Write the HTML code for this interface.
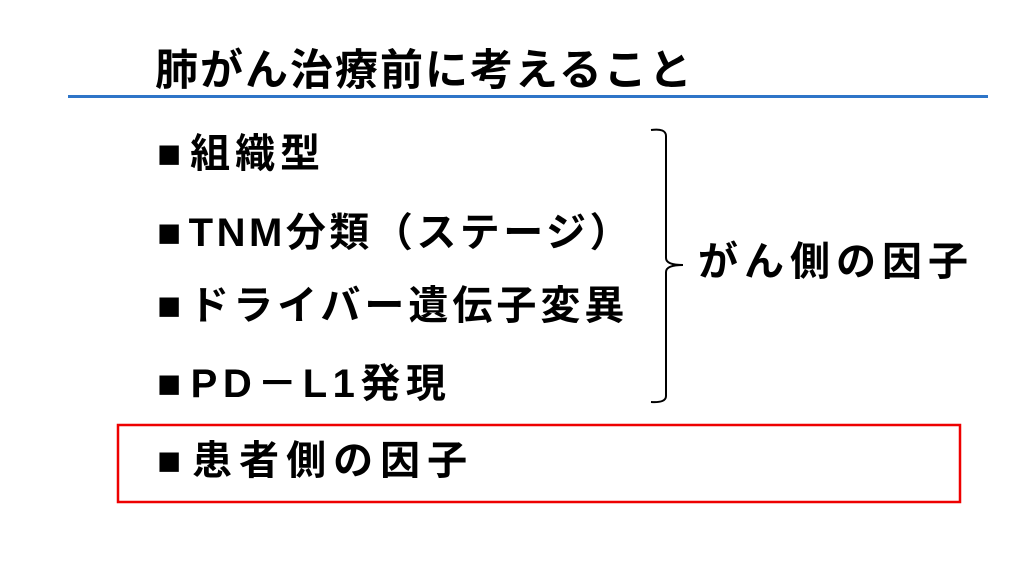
<!DOCTYPE html>
<html><head><meta charset="utf-8"><style>
body{margin:0;width:1024px;height:576px;background:#fff;position:relative;overflow:hidden;font-family:"Liberation Sans","Noto Sans CJK JP",sans-serif;font-weight:bold;color:#000}
.t{position:absolute;white-space:nowrap;line-height:1}
.b{font-family:"Noto Sans CJK JP",sans-serif}
.s{margin-right:4px}
</style></head><body>
<div class="t" style="left:155px;top:50px;font-size:43px;letter-spacing:2px">肺がん治療前に考えること</div>
<div style="position:absolute;left:68px;top:95px;width:920px;height:3px;background:#2e75c8"></div>
<div class="t" style="left:157px;top:134px;font-size:40px;letter-spacing:5px"><span class="s">■</span>組織型</div>
<div class="t" style="left:157px;top:209px;font-size:40px;letter-spacing:3.5px"><span class="s">■</span>TNM分類<span class="b">（</span>ステージ<span class="b">）</span></div>
<div class="t" style="left:157px;top:286px;font-size:40px;letter-spacing:4px"><span class="s">■</span>ドライバー遺伝子変異</div>
<div class="t" style="left:157px;top:364px;font-size:40px;letter-spacing:5.5px"><span class="s">■</span>PD－L1発現</div>
<div class="t" style="left:157px;top:441px;font-size:40px;letter-spacing:7px"><span class="s">■</span>患者側の因子</div>
<div class="t" style="left:698px;top:242px;font-size:40px;letter-spacing:6px">がん側の因子</div>
<svg style="position:absolute;left:0;top:0" width="1024" height="576">
<path d="M651 130 Q666 128 666 136 L666 258 Q666 265 683 265 Q666 265 666 272 L666 396 Q666 403 651 402" fill="none" stroke="#000" stroke-width="2"/>
<rect x="118" y="425" width="842" height="77" fill="none" stroke="#e00" stroke-width="2.5"/>
</svg>
</body></html>
